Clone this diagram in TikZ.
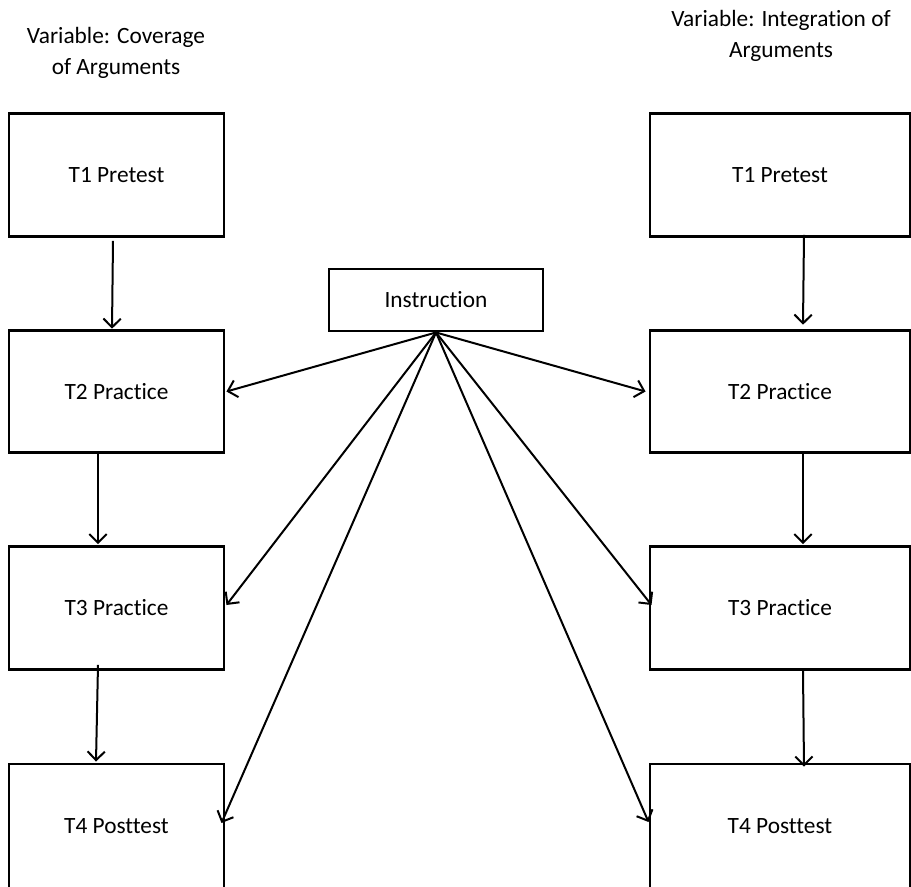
\documentclass[tikz,border=0pt]{standalone}
\usepackage{fontspec}
\setmainfont[Ligatures=NoCommon]{Carlito}
\usetikzlibrary{arrows.meta,calc}
\begin{document}
\begin{tikzpicture}[x=0.75pt,y=-0.75pt,
  box/.style={draw=black,line width=2.2pt,fill=white,inner sep=0pt,font=\fontsize{17.5}{21}\selectfont},
  lbox/.style={box,minimum width=161.25pt,minimum height=92pt},
  rbox/.style={box,minimum width=195pt,minimum height=92pt},
  lboxb/.style={lbox,minimum height=97.5pt},
  rboxb/.style={rbox,minimum height=97.5pt},
  ibox/.style={box,minimum width=160.5pt,minimum height=46.5pt},
  ttl/.style={align=center,inner sep=0pt,font=\fontsize{17.5}{23}\selectfont},
  arr/.style={line width=1.5pt,-{Straight Barb[length=6.5pt,width=13pt,line width=1.5pt]}}]
\useasboundingbox (0,0) rectangle (911,886);
\clip (0,0) rectangle (911,886);
\fill[white] (0,0) rectangle (911,886);
% titles
\node[ttl] (ltitle) at (116,53) {Variable: Coverage\\of Arguments};
\node[ttl] (rtitle) at (781,36) {Variable: Integration of\\Arguments};
% left column
\node[lbox] (lT1) at (116.5,175) {T1 Pretest};
\node[lbox] (lT2) at (116.5,391.5) {T2 Practice};
\node[lbox] (lT3) at (116.5,608) {T3 Practice};
\node[lboxb] (lT4) at (116.5,829) {\raisebox{4pt}{T4 Posttest}};
% right column
\node[rbox] (rT1) at (780,175) {T1 Pretest};
\node[rbox] (rT2) at (780,391.5) {T2 Practice};
\node[rbox] (rT3) at (780,608) {T3 Practice};
\node[rboxb] (rT4) at (780,829) {\raisebox{4pt}{T4 Posttest}};
% instruction
\node[ibox] (instr) at (436,300) {Instruction};
% vertical arrows left
\draw[arr] ($(lT1.south)+(-3.5,3)$) -- ($(lT2.north)+(-4.5,0)$);
\draw[arr] ($(lT2.south)+(-18.5,0)$) -- ($(lT3.north)+(-18.5,-1)$);
\draw[arr] ($(lT3.south)+(-18.5,-6)$) -- ($(lT4.north)+(-20.5,-1)$);
% vertical arrows right
\draw[arr] ($(rT1.south)+(24,-3)$) -- ($(rT2.north)+(23,-4)$);
\draw[arr] ($(rT2.south)+(23,0)$) -- ($(rT3.north)+(23,-1)$);
\draw[arr] ($(rT3.south)+(23,0)$) -- ($(rT4.north)+(24,4)$);
% fan arrows
\draw[arr] (instr.south) -- ($(lT2.east)+(1,0)$);
\draw[arr] (instr.south) -- ($(lT3.east)+(1,-3)$);
\draw[arr] (instr.south) -- ($(lT4.east)+(-4,-6)$);
\draw[arr] (instr.south) -- ($(rT2.west)+(-3,0)$);
\draw[arr] (instr.south) -- ($(rT3.west)+(3,-3)$);
\draw[arr] (instr.south) -- ($(rT4.west)+(0,-7)$);
\end{tikzpicture}
\end{document}
